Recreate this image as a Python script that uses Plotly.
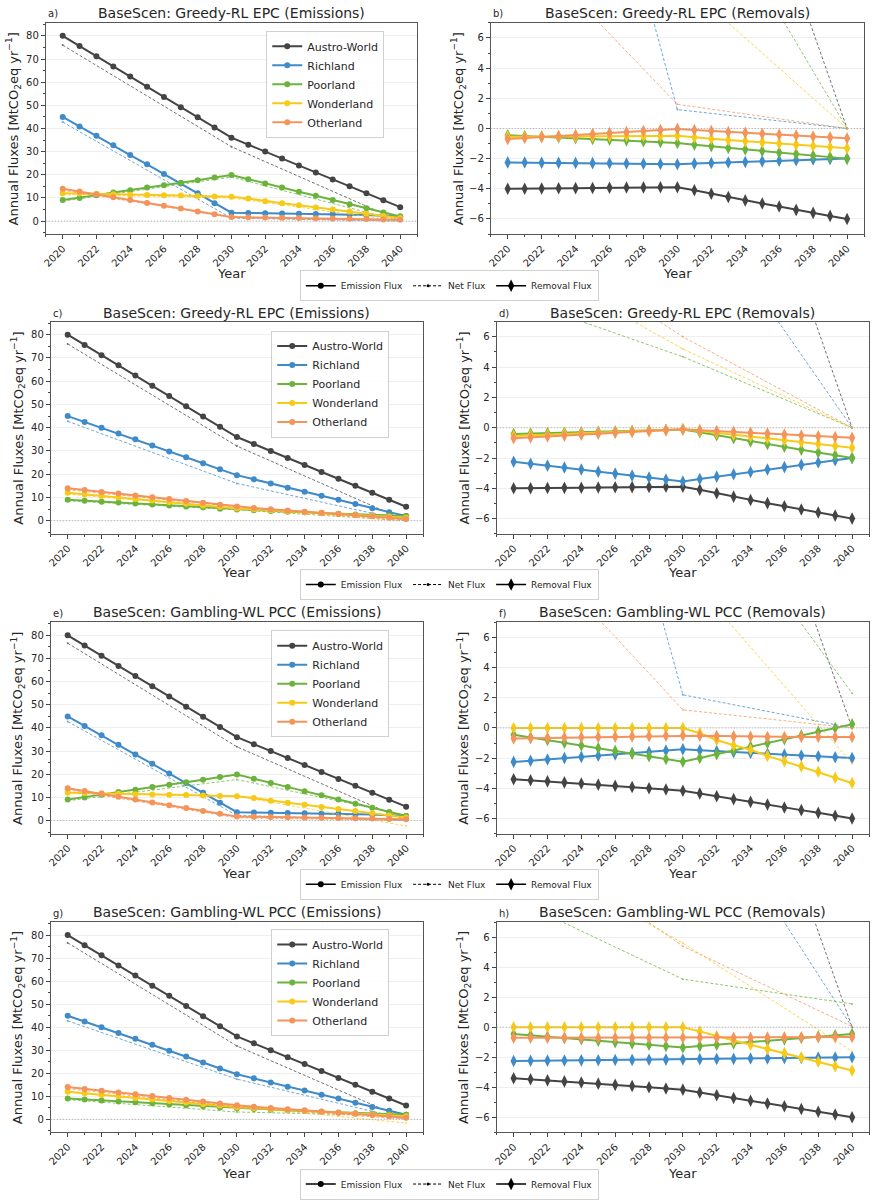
import plotly.graph_objects as go
from plotly.subplots import make_subplots

W, H = 872, 1200

years = list(range(2020, 2041))
net_years = [2020, 2030, 2040]
regions = ["Austro-World", "Richland", "Poorland", "Wonderland", "Otherland"]
colors = ["#444444", "#3f8bc9", "#6cb33e", "#f7ca18", "#f4935a"]

# Emissions, panels a) and e)
E1_AUSTRO = [80.0, 75.6, 71.2, 66.8, 62.4, 58.0, 53.6, 49.2, 44.8, 40.4, 36.0, 33.0, 30.0, 27.0, 24.0, 21.0, 18.0, 15.0, 12.0, 9.0, 6.0]
E1_RICH = [45.0, 40.8, 36.9, 32.7, 28.5, 24.5, 20.3, 16.2, 12.0, 7.7, 3.6, 3.5, 3.4, 3.3, 3.2, 3.1, 3.0, 2.8, 2.6, 2.3, 2.0]
E1_POOR = [9.1, 10.0, 11.2, 12.3, 13.3, 14.5, 15.5, 16.5, 17.6, 18.8, 19.9, 18.1, 16.2, 14.5, 12.7, 10.9, 9.1, 7.3, 5.5, 3.7, 2.0]
E1_WONDER = [12.0, 11.9, 11.8, 11.6, 11.4, 11.3, 11.1, 11.0, 10.8, 10.6, 10.5, 9.7, 8.6, 7.7, 6.8, 5.9, 5.0, 4.1, 3.2, 2.2, 1.3]
E1_OTHER = [14.0, 12.8, 11.6, 10.3, 9.1, 7.8, 6.6, 5.4, 4.1, 2.9, 1.7, 1.6, 1.5, 1.4, 1.3, 1.2, 1.1, 1.0, 0.9, 0.7, 0.6]

# Emissions, panels c) and g)
E2_AUSTRO = [80.0, 75.6, 71.2, 66.8, 62.4, 58.0, 53.6, 49.2, 44.8, 40.4, 36.0, 33.0, 30.0, 27.0, 24.0, 21.0, 18.0, 15.0, 12.0, 9.0, 6.0]
E2_RICH = [45.0, 42.5, 40.0, 37.5, 35.0, 32.4, 29.8, 27.3, 24.7, 22.1, 19.6, 17.8, 16.0, 14.2, 12.5, 10.7, 9.0, 7.2, 5.4, 3.7, 2.0]
E2_POOR = [9.0, 8.6, 8.2, 7.8, 7.4, 7.0, 6.5, 6.1, 5.7, 5.2, 4.8, 4.5, 4.2, 3.9, 3.6, 3.3, 3.0, 2.7, 2.4, 2.2, 2.0]
E2_WONDER = [12.0, 11.3, 10.6, 10.0, 9.3, 8.7, 8.0, 7.3, 6.6, 6.0, 5.3, 4.9, 4.5, 4.1, 3.7, 3.3, 2.9, 2.5, 2.1, 1.7, 1.3]
E2_OTHER = [14.0, 13.2, 12.4, 11.7, 10.9, 10.1, 9.3, 8.5, 7.7, 6.9, 6.1, 5.5, 4.9, 4.4, 3.9, 3.4, 2.9, 2.4, 1.9, 1.3, 0.7]

# Removals, panel b)
RB_AUSTRO = [-4.0, -4.0, -3.98, -3.97, -3.96, -3.95, -3.93, -3.92, -3.91, -3.9, -3.9, -4.1, -4.33, -4.55, -4.77, -4.98, -5.18, -5.4, -5.6, -5.8, -6.0]
RB_RICH = [-2.25, -2.26, -2.27, -2.28, -2.29, -2.3, -2.31, -2.32, -2.34, -2.36, -2.37, -2.33, -2.29, -2.26, -2.22, -2.18, -2.14, -2.1, -2.06, -2.03, -2.0]
RB_POOR = [-0.45, -0.5, -0.55, -0.6, -0.64, -0.69, -0.74, -0.79, -0.84, -0.9, -0.96, -1.08, -1.18, -1.3, -1.4, -1.5, -1.6, -1.7, -1.8, -1.9, -2.0]
RB_WONDER = [-0.55, -0.55, -0.55, -0.55, -0.55, -0.53, -0.52, -0.5, -0.5, -0.5, -0.48, -0.6, -0.68, -0.76, -0.84, -0.92, -1.0, -1.08, -1.16, -1.24, -1.32]
RB_OTHER = [-0.7, -0.63, -0.56, -0.5, -0.44, -0.37, -0.3, -0.23, -0.17, -0.1, -0.03, -0.1, -0.17, -0.23, -0.29, -0.35, -0.41, -0.47, -0.53, -0.59, -0.65]

# Removals, panel d)
RD_AUSTRO = [-4.0, -4.0, -3.98, -3.97, -3.96, -3.95, -3.93, -3.92, -3.91, -3.9, -3.9, -4.1, -4.33, -4.55, -4.77, -4.98, -5.18, -5.4, -5.6, -5.8, -6.0]
RD_RICH = [-2.25, -2.38, -2.5, -2.63, -2.76, -2.9, -3.03, -3.16, -3.29, -3.42, -3.55, -3.39, -3.23, -3.07, -2.92, -2.76, -2.6, -2.45, -2.3, -2.15, -2.0]
RD_POOR = [-0.42, -0.39, -0.36, -0.33, -0.3, -0.27, -0.24, -0.21, -0.18, -0.15, -0.12, -0.3, -0.5, -0.7, -0.9, -1.07, -1.25, -1.45, -1.63, -1.82, -2.0]
RD_WONDER = [-0.55, -0.5, -0.46, -0.41, -0.37, -0.33, -0.29, -0.24, -0.2, -0.15, -0.1, -0.22, -0.34, -0.46, -0.58, -0.7, -0.82, -0.95, -1.07, -1.2, -1.32]
RD_OTHER = [-0.7, -0.64, -0.58, -0.52, -0.46, -0.4, -0.34, -0.28, -0.22, -0.16, -0.1, -0.16, -0.22, -0.27, -0.33, -0.39, -0.45, -0.51, -0.56, -0.61, -0.67]

# Removals, panel f)
RF_AUSTRO = [-3.4, -3.47, -3.54, -3.61, -3.68, -3.76, -3.84, -3.92, -4.0, -4.08, -4.16, -4.35, -4.53, -4.72, -4.9, -5.08, -5.27, -5.45, -5.63, -5.82, -6.0]
RF_RICH = [-2.25, -2.17, -2.09, -2.0, -1.92, -1.84, -1.76, -1.67, -1.59, -1.5, -1.42, -1.48, -1.54, -1.6, -1.65, -1.71, -1.77, -1.83, -1.88, -1.94, -2.0]
RF_POOR = [-0.45, -0.63, -0.8, -0.98, -1.16, -1.34, -1.52, -1.7, -1.88, -2.06, -2.24, -1.99, -1.74, -1.49, -1.24, -0.99, -0.74, -0.5, -0.25, 0.0, 0.25]
RF_WONDER = [0.0, 0.0, 0.0, 0.0, 0.0, 0.0, 0.0, 0.0, 0.0, 0.0, 0.0, -0.35, -0.8, -1.15, -1.45, -1.85, -2.2, -2.55, -2.9, -3.3, -3.65]
RF_OTHER = [-0.7, -0.68, -0.66, -0.64, -0.62, -0.6, -0.58, -0.56, -0.54, -0.52, -0.5, -0.52, -0.54, -0.56, -0.58, -0.6, -0.6, -0.6, -0.6, -0.6, -0.6]

# Removals, panel h)
RH_AUSTRO = [-3.4, -3.47, -3.54, -3.61, -3.68, -3.76, -3.84, -3.92, -4.0, -4.08, -4.16, -4.35, -4.53, -4.72, -4.9, -5.08, -5.27, -5.45, -5.63, -5.82, -6.0]
RH_RICH = [-2.25, -2.24, -2.23, -2.22, -2.21, -2.2, -2.19, -2.18, -2.17, -2.16, -2.15, -2.13, -2.12, -2.11, -2.09, -2.08, -2.06, -2.05, -2.03, -2.02, -2.0]
RH_POOR = [-0.45, -0.54, -0.63, -0.72, -0.8, -0.9, -1.0, -1.08, -1.17, -1.26, -1.35, -1.26, -1.17, -1.08, -0.99, -0.9, -0.81, -0.72, -0.63, -0.54, -0.45]
RH_WONDER = [0.0, 0.0, 0.0, 0.0, 0.0, 0.0, 0.0, 0.0, 0.0, 0.0, 0.0, -0.28, -0.6, -0.88, -1.17, -1.45, -1.73, -2.02, -2.3, -2.6, -2.88]
RH_OTHER = [-0.7, -0.7, -0.7, -0.7, -0.7, -0.7, -0.7, -0.7, -0.7, -0.7, -0.7, -0.7, -0.7, -0.7, -0.7, -0.69, -0.68, -0.67, -0.66, -0.65, -0.65]

# Net flux (2020, 2030, 2040), one set per row
N1_AUSTRO = [76.0, 32.1, 0.0]
N1_RICH = [42.75, 1.25, 0.0]
N1_POOR = [8.6, 19.0, 0.0]
N1_WONDER = [11.45, 10.0, 0.0]
N1_OTHER = [13.3, 1.6, 0.0]

N2_AUSTRO = [76.0, 32.1, 0.0]
N2_RICH = [42.75, 16.05, 0.0]
N2_POOR = [8.58, 4.68, 0.0]
N2_WONDER = [11.45, 5.2, 0.0]
N2_OTHER = [13.3, 6.0, 0.0]

N3_AUSTRO = [76.6, 31.85, 0.0]
N3_RICH = [42.75, 2.2, 0.0]
N3_POOR = [8.55, 17.7, 2.3]
N3_WONDER = [12.0, 10.5, -2.35]
N3_OTHER = [13.3, 1.2, 0.0]

N4_AUSTRO = [76.6, 31.85, 0.0]
N4_RICH = [42.75, 17.45, 0.0]
N4_POOR = [8.55, 3.2, 1.55]
N4_WONDER = [12.0, 5.6, -1.6]
N4_OTHER = [13.3, 5.4, 0.05]

emi_tick_vals = [0, 10, 20, 30, 40, 50, 60, 70, 80]
rem_tick_vals = [-6, -4, -2, 0, 2, 4, 6]
year_tick_vals = list(range(2020, 2041, 2))

rows = [
    dict(tag="Greedy-RL EPC", labels=("a)", "b)"),
         emis=[E1_AUSTRO, E1_RICH, E1_POOR, E1_WONDER, E1_OTHER],
         rem=[RB_AUSTRO, RB_RICH, RB_POOR, RB_WONDER, RB_OTHER],
         net=[N1_AUSTRO, N1_RICH, N1_POOR, N1_WONDER, N1_OTHER]),
    dict(tag="Greedy-RL EPC", labels=("c)", "d)"),
         emis=[E2_AUSTRO, E2_RICH, E2_POOR, E2_WONDER, E2_OTHER],
         rem=[RD_AUSTRO, RD_RICH, RD_POOR, RD_WONDER, RD_OTHER],
         net=[N2_AUSTRO, N2_RICH, N2_POOR, N2_WONDER, N2_OTHER]),
    dict(tag="Gambling-WL PCC", labels=("e)", "f)"),
         emis=[E1_AUSTRO, E1_RICH, E1_POOR, E1_WONDER, E1_OTHER],
         rem=[RF_AUSTRO, RF_RICH, RF_POOR, RF_WONDER, RF_OTHER],
         net=[N3_AUSTRO, N3_RICH, N3_POOR, N3_WONDER, N3_OTHER]),
    dict(tag="Gambling-WL PCC", labels=("g)", "h)"),
         emis=[E2_AUSTRO, E2_RICH, E2_POOR, E2_WONDER, E2_OTHER],
         rem=[RH_AUSTRO, RH_RICH, RH_POOR, RH_WONDER, RH_OTHER],
         net=[N4_AUSTRO, N4_RICH, N4_POOR, N4_WONDER, N4_OTHER]),
]

# panel boxes in pixels: left, right, top, bottom
boxes = [
    [(42, 415, 23, 235), (489, 864, 23, 235)],
    [(47, 421, 323, 536), (495, 869, 323, 536)],
    [(47, 421, 625, 837), (495, 869, 625, 837)],
    [(47, 421, 926, 1137), (495, 869, 926, 1137)],
]
country_legend_pos = [(382, 31), (387, 332), (387, 633), (387, 933)]
flux_legend_y = [287, 587, 888, 1189]
title_y = [13, 314, 615, 916]
xlabel_y = [275, 575, 877, 1178]

FONT = "DejaVu Sans"
TEXT = "#262626"
NET_DASH = "3px,2px"


def fx(p):
    return p / W


def fy(p):
    return 1 - p / H


fig = make_subplots(rows=4, cols=2)
annotations = []

for r, info in enumerate(rows):
    row = r + 1
    country_legend = "legend" if r == 0 else f"legend{r + 1}"
    flux_legend = f"legend{r + 5}"

    # emissions panel (left)
    for name, col, e, n in zip(regions, colors, info["emis"], info["net"]):
        fig.add_trace(go.Scatter(
            x=net_years, y=n, mode="lines+markers",
            line=dict(color=col, width=1, dash=NET_DASH),
            marker=dict(size=2, color=col), opacity=0.75,
            showlegend=False, hoverinfo="skip"
        ), row=row, col=1)
        fig.add_trace(go.Scatter(
            x=years, y=e, mode="lines+markers", name=name,
            line=dict(color=col, width=2),
            marker=dict(size=6, color=col, symbol="circle"),
            legend=country_legend
        ), row=row, col=1)

    # removals panel (right)
    for name, col, rm, n in zip(regions, colors, info["rem"], info["net"]):
        fig.add_trace(go.Scatter(
            x=net_years, y=n, mode="lines+markers",
            line=dict(color=col, width=1, dash=NET_DASH),
            marker=dict(size=2, color=col), opacity=0.75,
            showlegend=False, hoverinfo="skip"
        ), row=row, col=2)
        fig.add_trace(go.Scatter(
            x=years, y=rm, mode="lines+markers", name=name,
            line=dict(color=col, width=2),
            marker=dict(size=9, color=col, symbol="diamond-tall"),
            showlegend=False
        ), row=row, col=2)

    # flux type legend (legend only entries)
    fig.add_trace(go.Scatter(
        x=[None], y=[None], mode="lines+markers", name="Emission Flux",
        line=dict(color="black", width=1.5), marker=dict(size=6, color="black"),
        legend=flux_legend
    ), row=row, col=1)
    fig.add_trace(go.Scatter(
        x=[None], y=[None], mode="lines+markers", name="Net Flux",
        line=dict(color="black", width=1, dash=NET_DASH), marker=dict(size=3, color="black"),
        legend=flux_legend
    ), row=row, col=1)
    fig.add_trace(go.Scatter(
        x=[None], y=[None], mode="lines+markers", name="Removal Flux",
        line=dict(color="black", width=1.5),
        marker=dict(size=9, color="black", symbol="diamond-tall"),
        legend=flux_legend
    ), row=row, col=1)

    for c in range(2):
        fig.add_hline(y=0, line=dict(color="#a8a8a8", width=1, dash="1px,2px"), row=row, col=c + 1)

    # legends
    lx, ly = country_legend_pos[r]
    fig.layout[country_legend] = dict(
        x=fx(lx), y=fy(ly), xanchor="right", yanchor="top",
        bgcolor="rgba(255,255,255,0.85)", bordercolor="#d0d0d0", borderwidth=1,
        font=dict(size=11, family=FONT, color=TEXT), tracegroupgap=0, itemwidth=30
    )
    fig.layout[flux_legend] = dict(
        x=0.513, y=fy(flux_legend_y[r]), xanchor="center", yanchor="middle",
        orientation="h", bgcolor="white", bordercolor="#d0d0d0", borderwidth=1,
        font=dict(size=9, family=FONT, color=TEXT), itemwidth=30
    )

    # titles / labels
    for c, kind in enumerate(["Emissions", "Removals"]):
        left, right, top, bottom = boxes[r][c]
        cx = (left + right) / 2
        annotations.append(dict(
            text=f"BaseScen: {info['tag']} ({kind})", x=fx(cx), y=fy(title_y[r]),
            xref="paper", yref="paper", showarrow=False, xanchor="center", yanchor="middle",
            font=dict(size=14, family=FONT, color=TEXT)
        ))
        annotations.append(dict(
            text=info["labels"][c], x=fx(left), y=fy(title_y[r] + 1),
            xref="paper", yref="paper", showarrow=False, xanchor="left", yanchor="middle",
            font=dict(size=10, family=FONT, color=TEXT)
        ))
        annotations.append(dict(
            text="Year", x=fx(cx), y=fy(xlabel_y[r]),
            xref="paper", yref="paper", showarrow=False, xanchor="center", yanchor="middle",
            font=dict(size=13, family=FONT, color=TEXT)
        ))
        ytx = (10 if r == 0 else 14) if c == 0 else (457 if r == 0 else 462)
        annotations.append(dict(
            text="Annual Fluxes [MtCO<sub>2</sub>eq yr<sup>\u22121</sup>]",
            x=fx(ytx), y=fy((top + bottom) / 2), textangle=-90,
            xref="paper", yref="paper", showarrow=False, xanchor="center", yanchor="middle",
            font=dict(size=13, family=FONT, color=TEXT)
        ))

# axis domains and styling
for r in range(4):
    for c in range(2):
        idx = r * 2 + c + 1
        sfx = "" if idx == 1 else str(idx)
        left, right, top, bottom = boxes[r][c]
        fig.layout["xaxis" + sfx].domain = [fx(left), fx(right)]
        fig.layout["yaxis" + sfx].domain = [fy(bottom), fy(top)]
        if c == 0:
            fig.layout["yaxis" + sfx].update(range=[-5.6, 85.6], tickvals=emi_tick_vals,
                                             minor=dict(dtick=5, tick0=0, ticks="outside", ticklen=2))
        else:
            fig.layout["yaxis" + sfx].update(range=[-7, 7], tickvals=rem_tick_vals,
                                             minor=dict(dtick=1, tick0=0, ticks="outside", ticklen=2))

fig.update_xaxes(
    range=[2019, 2041], tickvals=year_tick_vals, tickangle=-45,
    ticks="outside", ticklen=4, tickcolor="#444", showline=True, mirror=True,
    linecolor="#555", linewidth=1, showgrid=False, zeroline=False,
    tickfont=dict(size=10, family=FONT, color=TEXT),
    minor=dict(dtick=1, tick0=2020, ticks="outside", ticklen=2, tickcolor="#444")
)
fig.update_yaxes(
    ticks="outside", ticklen=4, tickcolor="#444", showline=True, mirror=True,
    linecolor="#555", linewidth=1, showgrid=True, gridcolor="#efefef", zeroline=False,
    tickfont=dict(size=10, family=FONT, color=TEXT)
)

fig.update_layout(
    width=W, height=H, margin=dict(l=0, r=0, t=0, b=0),
    plot_bgcolor="white", paper_bgcolor="white",
    font=dict(family=FONT, color=TEXT),
    annotations=annotations, showlegend=True
)

# drop the default page margin so the figure sits at the top-left corner
fig.write_html(
    "out.html",
    config={"displayModeBar": False},
    post_script="document.body.style.margin = '0';"
)
